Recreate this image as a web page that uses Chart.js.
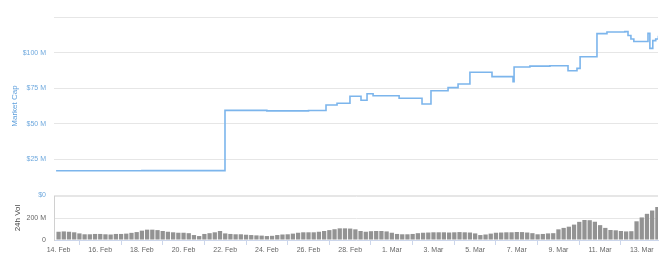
<!DOCTYPE html>
<html>
<head>
<meta charset="utf-8">
<script src="https://cdn.jsdelivr.net/npm/chart.js@4"></script>
<style>
    body { margin: 0; background: #fff; }
    .wrap { position: relative; width: 672px; height: 264px; }
    canvas { position: absolute; left: 0; }
    #cap-chart { top: 0; }
    #vol-chart { top: 180px; }
</style>
</head>
<body>
<div class="wrap">
    <canvas id="cap-chart" width="672" height="210"></canvas>
    <canvas id="vol-chart" width="672" height="84"></canvas>
</div>
<script>
// x values are days counted from 14 Feb (2020 was a leap year)
const tickDays = [0, 2, 4, 6, 8, 10, 12, 14, 16, 18, 20, 22, 24, 26, 28];
const tickLabels = ['14. Feb', '16. Feb', '18. Feb', '20. Feb', '22. Feb', '24. Feb', '26. Feb', '28. Feb',
    '1. Mar', '3. Mar', '5. Mar', '7. Mar', '9. Mar', '11. Mar', '13. Mar'];

// market cap, in millions of dollars, each value starts at its day
const capDays = [-0.12, 4, 7.99, 10, 12, 12.84, 13.37, 13.99, 14.52, 14.81, 15.10, 16.35, 17.45, 17.88,
    18.70, 19.18, 19.75, 20.81, 21.82, 21.87, 22.63, 23.59, 24.46, 24.89, 25.04, 25.85, 26.33, 27.19,
    27.34, 27.48, 27.62, 28.30, 28.39, 28.53, 28.67, 28.80];
const capValues = [17.0, 17.1, 59.4, 59.1, 59.3, 63.2, 64.4, 69.3, 66.5, 71.1, 69.7, 67.9, 63.9, 73.2,
    75.4, 78.0, 86.2, 83.1, 79.6, 89.9, 90.5, 90.8, 87.3, 88.9, 97.1, 113.3, 114.5, 114.7,
    112.0, 109.5, 107.8, 113.5, 103.0, 108.4, 109.5, 111.9];

// 24h volume, in millions, four readings a day starting 14 Feb
const volValues = [
    75, 78, 75, 70,   60, 52, 52, 55,   55, 52, 50, 55,   55, 58, 65, 72,
    85, 94, 94, 90,   82, 75, 70, 66,   66, 62, 45, 36,   55, 62, 70, 82,
    60, 55, 52, 52,   48, 45, 42, 40,   36, 38, 45, 50,   52, 58, 66, 70,
    70, 70, 75, 82,   90, 98, 106, 106, 104, 97, 82, 75,  80, 82, 82, 78,
    66, 55, 52, 52,   55, 62, 66, 68,   70, 70, 70, 68,   70, 72, 70, 68,
    60, 45, 50, 58,   66, 68, 70, 70,   73, 72, 68, 62,   52, 55, 60, 62,
    97, 110, 121, 140, 165, 182, 180, 166, 135, 110, 91, 88, 82, 78, 80, 170,
    205, 238, 268, 300
];

const capTicks = [0, 25, 50, 75, 100, 125];
const volTicks = [0, 200, 400];

const app = {};

app.xMin = -0.22;
app.xMax = 28.78;
app.font = 'Liberation Sans, Arial, sans-serif';

app.xAxis = (show) => {
    const axis = {
        type: 'linear',
        min: app.xMin,
        max: app.xMax,
        display: show,
        offset: false,
        afterBuildTicks: (scale) => {
            scale.ticks = tickDays.map((d) => ({ value: d }));
        },
        grid: {
            drawOnChartArea: false,
            drawTicks: true,
            tickLength: 5,
            color: '#ccd6eb'
        },
        border: { display: true, color: '#ccd6eb' },
        ticks: {
            autoSkip: false,
            maxRotation: 0,
            padding: 1,
            color: '#666',
            font: { family: app.font, size: 7 },
            callback: (value) => {
                const i = tickDays.indexOf(value);
                return i >= 0 ? tickLabels[i] : '';
            }
        }
    };
    if (show) {
        axis.afterFit = (scale) => {
            scale.height = 24;
        };
    }
    return axis;
};

app.drawCap = () => {
    const points = capDays.map((d, i) => ({ x: d, y: capValues[i] }));

    new Chart(document.getElementById('cap-chart'), {
        type: 'line',
        data: {
            datasets: [{
                data: points,
                borderColor: '#7cb5ec',
                borderWidth: 1.6,
                pointRadius: 0,
                stepped: true,
                fill: false
            }]
        },
        options: {
            responsive: false,
            animation: false,
            layout: { padding: { top: 17, right: 14, bottom: 15, left: 0 } },
            plugins: { legend: { display: false }, tooltip: { enabled: false } },
            scales: {
                x: app.xAxis(false),
                y: {
                    min: 0,
                    max: 125,
                    afterBuildTicks: (axis) => {
                        axis.ticks = capTicks.map((v) => ({ value: v }));
                    },
                    afterFit: (scale) => {
                        scale.width = 54;
                    },
                    grid: { color: '#e6e6e6', drawTicks: false },
                    border: { display: false },
                    ticks: {
                        padding: 8,
                        color: '#6fa9de',
                        font: { family: app.font, size: 7 },
                        callback: (value) => {
                            if (value === 125) return '';
                            if (value === 0) return '$0';
                            return '$' + value + ' M';
                        }
                    },
                    title: {
                        display: true,
                        text: 'Market Cap',
                        color: '#5d9fdc',
                        padding: { top: 10, bottom: 0 },
                        font: { family: app.font, size: 8 }
                    }
                }
            }
        }
    });
};

app.drawVol = () => {
    const points = volValues.map((v, i) => ({ x: i * 0.25, y: v }));

    new Chart(document.getElementById('vol-chart'), {
        type: 'bar',
        data: {
            datasets: [{
                data: points,
                backgroundColor: '#939393',
                categoryPercentage: 1,
                barPercentage: 0.82
            }]
        },
        options: {
            responsive: false,
            animation: false,
            layout: { padding: { top: 16, right: 14, bottom: 0, left: 0 } },
            plugins: { legend: { display: false }, tooltip: { enabled: false } },
            scales: {
                x: app.xAxis(true),
                y: {
                    min: 0,
                    max: 400,
                    afterBuildTicks: (axis) => {
                        axis.ticks = volTicks.map((v) => ({ value: v }));
                    },
                    afterFit: (scale) => {
                        scale.width = 54;
                    },
                    grid: { color: '#e6e6e6', drawTicks: false },
                    border: { display: true, color: '#d0d0d0' },
                    ticks: {
                        padding: 8,
                        color: '#666',
                        font: { family: app.font, size: 7 },
                        callback: (value) => {
                            if (value === 400) return '';
                            if (value === 0) return '0';
                            return value + ' M';
                        }
                    },
                    title: {
                        display: true,
                        text: '24h Vol',
                        color: '#444',
                        padding: { top: 13, bottom: 0 },
                        font: { family: app.font, size: 8 }
                    }
                }
            }
        }
    });
};

app.init = () => {
    app.drawCap();
    app.drawVol();
};

app.init();
</script>
</body>
</html>
